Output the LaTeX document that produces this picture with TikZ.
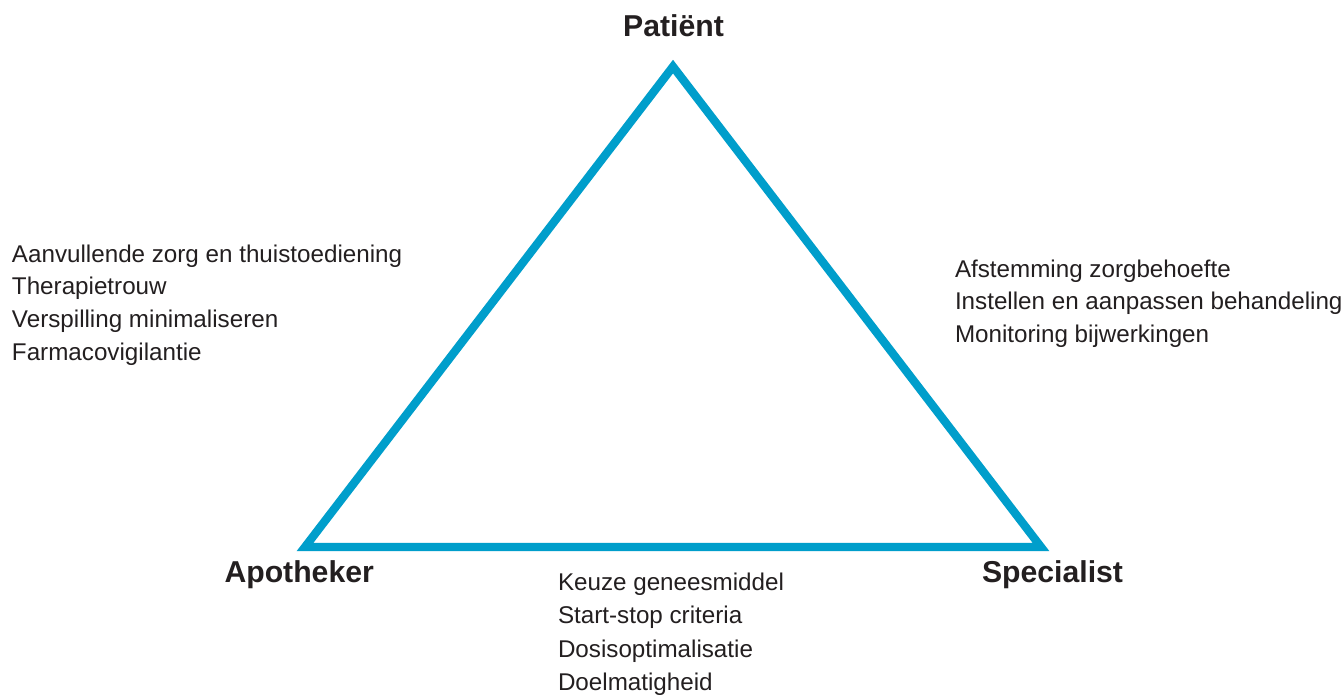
\documentclass[tikz,border=0pt]{standalone}
\usepackage{fontspec}
\setmainfont{Liberation Sans}
\definecolor{triblue}{RGB}{0,158,203}
\definecolor{txt}{RGB}{35,31,32}
\begin{document}
\begin{tikzpicture}[x=1pt,y=-1pt,
  corner/.style={inner sep=0pt, outer sep=0pt, anchor=base, text=txt, font=\fontsize{30.2}{36}\selectfont\bfseries},
  item/.style={inner sep=0pt, outer sep=0pt, anchor=base west, text=txt, font=\fontsize{24.2}{29}\selectfont},
  edge/.style={draw=triblue, line width=8.3pt, line join=miter}]
\useasboundingbox[fill=white] (0,0) rectangle (1344,698);
\coordinate (P) at (673,66.6);
\coordinate (A) at (305,547);
\coordinate (S) at (1041,547);
\draw[edge] (P) -- (S) -- (A) -- cycle;

\node[corner] (pat) at (673.5,36.7) {Patiënt};
\node[corner, anchor=base west] (apo) at (224.5,582) {Apotheker};
\node[corner, anchor=base west] (spe) at (982,582) {Specialist};

\node[item] (l1) at (12,262) {Aanvullende zorg en thuistoediening};
\node[item] (l2) at (12,294.5) {Therapietrouw};
\node[item] (l3) at (12,327.5) {Verspilling minimaliseren};
\node[item] (l4) at (12,360.5) {Farmacovigilantie};

\node[item] (r1) at (955,277) {Afstemming zorgbehoefte};
\node[item] (r2) at (955,309.5) {Instellen en aanpassen behandeling};
\node[item] (r3) at (955,342) {Monitoring bijwerkingen};

\node[item] (b1) at (558,590) {Keuze geneesmiddel};
\node[item] (b2) at (558,623.5) {Start-stop criteria};
\node[item] (b3) at (558,657) {Dosisoptimalisatie};
\node[item] (b4) at (558,690) {Doelmatigheid};
\end{tikzpicture}
\end{document}
